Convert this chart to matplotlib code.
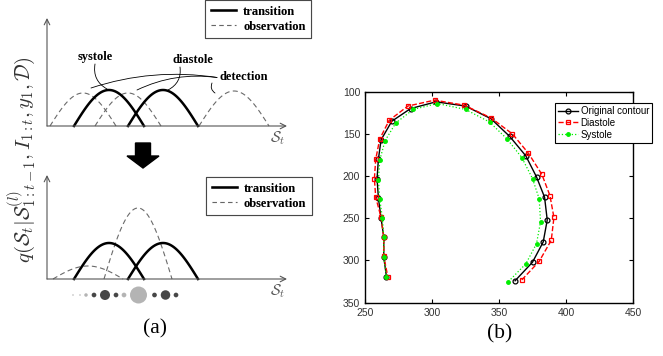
import matplotlib
matplotlib.use("Agg")
import matplotlib.pyplot as plt
import numpy as np
from matplotlib.lines import Line2D
from matplotlib.patches import FancyArrow

plt.rcParams["mathtext.fontset"] = "cm"

# ---- panel (a): schematic bump parameters (pixel-like units from the origin)
trans_centers = [62, 116]
trans_half = 35
trans_height = 36

obs_top_centers = [36, 81, 187]
obs_top_half = [33, 33, 35]
obs_top_heights = [33, 33, 35]

obs_bot_centers = [41, 91]
obs_bot_half = [35, 34]
obs_bot_heights = [13, 71]

dot_x = [26, 33, 39, 47, 58, 69, 77, 91.5, 107.5, 118.5, 129]
dot_diam = [1.5, 1.5, 3.5, 4.7, 10, 4.7, 4.7, 17, 4.7, 9.5, 4.7]
dot_light = [True, True, True, False, False, False, True, True, False, False, False]

# ---- panel (b): contour points (x, y)
orig_x = [362, 375, 383, 386, 384, 378, 370, 358, 344, 325, 303, 284, 270, 262, 260, 259, 260, 262, 264, 264, 266]
orig_y = [324, 302, 278, 252, 225, 201, 176, 153, 132, 117, 112, 120, 135, 157, 180, 203, 226, 250, 272, 296, 319]
dia_x = [367, 380, 389, 391, 388, 382, 372, 360, 344, 324, 302, 282, 268, 261, 258, 257, 258, 262, 264, 264, 267]
dia_y = [323, 301, 276, 249, 223, 198, 173, 150, 131, 116, 110, 117, 134, 156, 180, 203, 225, 249, 272, 295, 319]
sys_x = [357, 370, 378, 381, 380, 375, 367, 356, 343, 325, 304, 286, 273, 265, 261, 260, 261, 263, 264, 264, 266]
sys_y = [325, 304, 280, 254, 227, 203, 178, 156, 136, 121, 114, 121, 137, 158, 181, 205, 227, 250, 272, 296, 319]

W, H = 663, 356
fig = plt.figure(figsize=(W / 100, H / 100), dpi=100)

# overlay in pixel coordinates for arrow / captions
over = fig.add_axes([0, 0, 1, 1])
over.set_xlim(0, W)
over.set_ylim(H, 0)
over.axis("off")


def bump(ax, c, w, h, **kw):
    xs = np.linspace(c - w, c + w, 120)
    ax.plot(xs, h * np.sin(np.pi * (xs - (c - w)) / (2 * w)), **kw)


def draw_axes_arrows(ax, xmax, ymax):
    ap = dict(arrowstyle="->", lw=0.8, color="#555555", shrinkA=0, shrinkB=0)
    ax.annotate("", xy=(xmax, 0), xytext=(0, 0), arrowprops=ap)
    ax.annotate("", xy=(0, ymax), xytext=(0, 0), arrowprops=ap)
    ax.text(xmax - 9, -12, r"$\mathcal{S}_t$", fontsize=11, color="#555555",
            ha="center", va="center")


serif_bold = dict(family="Liberation Serif", weight="bold", size=9)
obs_style = dict(color="#6a6a6a", lw=0.8, dashes=(4.5, 3))
trans_style = dict(color="black", lw=1.8)

# top schematic
ax1 = fig.add_axes([47 / W, 1 - 146 / H, 245 / W, 130 / H])
ax1.set_xlim(0, 245)
ax1.set_ylim(-20, 110)
ax1.axis("off")
draw_axes_arrows(ax1, 240, 108)
for c, w, h in zip(obs_top_centers, obs_top_half, obs_top_heights):
    bump(ax1, c, w, h, **obs_style)
for c in trans_centers:
    bump(ax1, c, trans_half, trans_height, **trans_style)

ax1.text(48, 69, "systole", ha="center", va="center", **serif_bold)
ax1.text(146, 66, "diastole", ha="center", va="center", **serif_bold)
ax1.text(173, 49, "detection", ha="left", va="center", **serif_bold)
lead = dict(arrowstyle="-", lw=0.6, color="black", shrinkA=0, shrinkB=0)
ax1.annotate("", xy=(60, 37), xytext=(48, 62),
             arrowprops=dict(connectionstyle="arc3,rad=0.35", **lead))
ax1.annotate("", xy=(121, 36), xytext=(133, 59),
             arrowprops=dict(connectionstyle="arc3,rad=-0.35", **lead))
ax1.annotate("", xy=(44, 38), xytext=(170, 48.5),
             arrowprops=dict(connectionstyle="arc3,rad=0.12", **lead))
ax1.annotate("", xy=(90, 36), xytext=(170, 48.5),
             arrowprops=dict(connectionstyle="arc3,rad=0.15", **lead))
ax1.annotate("", xy=(168, 33), xytext=(165, 43),
             arrowprops=dict(connectionstyle="arc3,rad=0.4", **lead))

# bottom schematic
ax2 = fig.add_axes([47 / W, 1 - 299 / H, 245 / W, 130 / H])
ax2.set_xlim(0, 245)
ax2.set_ylim(-20, 110)
ax2.axis("off")
draw_axes_arrows(ax2, 240, 104)
for c, w, h in zip(obs_bot_centers, obs_bot_half, obs_bot_heights):
    bump(ax2, c, w, h, **obs_style)
for c in trans_centers:
    bump(ax2, c, trans_half, trans_height, **trans_style)
dot_colors = ["#b4b4b4" if lt else "#474747" for lt in dot_light]
ax2.scatter(dot_x, [-16] * len(dot_x), s=[(d * 0.72) ** 2 for d in dot_diam],
            c=dot_colors, linewidths=0, clip_on=False)

leg_handles = [Line2D([0], [0], **trans_style, label="transition"),
               Line2D([0], [0], color="#666666", lw=0.8, linestyle=(0, (4, 3)),
                      label="observation")]
for anchor in [(311 / W, 1.0), (312 / W, 1 - 177 / H)]:
    leg = fig.legend(handles=leg_handles, loc="upper right", bbox_to_anchor=anchor,
                     borderaxespad=0, fancybox=False, prop=dict(family="Liberation Serif",
                     weight="bold", size=9), handlelength=2.0, handletextpad=0.6,
                     labelspacing=0.25, borderpad=0.45)
    leg.get_frame().set_edgecolor("#333333")
    leg.get_frame().set_linewidth(0.8)
    fig.add_artist(leg)

over.add_patch(FancyArrow(143, 143, 0, 25, width=15, head_width=32, head_length=12,
                          length_includes_head=True, color="black"))
over.text(22, 160, r"$q(\mathcal{S}_t|\mathcal{S}^{(l)}_{1:t-1},I_{1:t},y_1,\mathcal{D})$",
          rotation=90, ha="center", va="center", fontsize=15, color="#333333")
over.text(155, 329, "(a)", ha="center", va="center", family="Liberation Serif", size=15.5)
over.text(500, 334, "(b)", ha="center", va="center", family="Liberation Serif", size=15.5)

# panel (b)
ax3 = fig.add_axes([365 / W, 1 - 302.7 / H, 268 / W, 211 / H])
ax3.plot(orig_x, orig_y, "k-", marker="o", mfc="none", ms=3.5, mew=0.9, lw=1.0,
         label="Original contour")
ax3.plot(dia_x, dia_y, color="red", ls="--", marker="s", mfc="none", ms=3.5, mew=0.9,
         lw=1.0, label="Diastole")
ax3.plot(sys_x, sys_y, color="#00ee00", ls=":", marker="o", ms=2.5, lw=0.9, label="Systole")
ax3.set_xlim(250, 450)
ax3.set_ylim(350, 100)
ax3.set_xticks([250, 300, 350, 400, 450])
ax3.set_yticks([100, 150, 200, 250, 300, 350])
ax3.tick_params(direction="in", top=True, right=True, length=3, width=0.8,
                labelsize=7.5, labelcolor="#333333")
for lab in ax3.get_xticklabels() + ax3.get_yticklabels():
    lab.set_family("Liberation Sans")
for sp in ax3.spines.values():
    sp.set_linewidth(1.0)
leg3 = ax3.legend(loc="upper right", bbox_to_anchor=(652 / W, 1 - 103 / H),
                  bbox_transform=fig.transFigure, borderaxespad=0, fancybox=False,
                  prop=dict(family="Liberation Sans", size=7), handlelength=2.0,
                  handletextpad=0.3, labelspacing=0.2, borderpad=0.3)
leg3.get_frame().set_edgecolor("black")
leg3.get_frame().set_linewidth(0.8)
leg3.get_frame().set_alpha(1)

fig.savefig("out.png", dpi=100)
